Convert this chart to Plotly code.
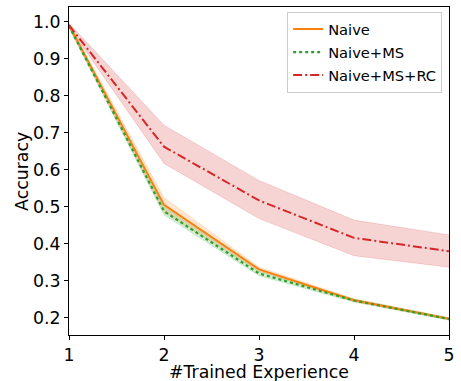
import plotly.graph_objects as go

experiences = [1, 2, 3, 4, 5]

naive_mean = [0.990, 0.505, 0.331, 0.248, 0.198]
naive_low = [0.985, 0.485, 0.325, 0.244, 0.195]
naive_high = [0.995, 0.525, 0.337, 0.252, 0.201]

ms_mean = [0.988, 0.488, 0.320, 0.247, 0.197]
ms_low = [0.983, 0.478, 0.314, 0.243, 0.194]
ms_high = [0.993, 0.500, 0.327, 0.251, 0.200]

rc_mean = [0.990, 0.662, 0.517, 0.416, 0.380]
rc_low = [0.985, 0.617, 0.468, 0.368, 0.337]
rc_high = [0.995, 0.720, 0.571, 0.464, 0.424]

series = [
    ("Naive", naive_mean, naive_low, naive_high, "#ff7f0e", "rgba(255,127,14,0.2)", "solid"),
    ("Naive+MS", ms_mean, ms_low, ms_high, "#2ca02c", "rgba(44,160,44,0.2)", "dot"),
    ("Naive+MS+RC", rc_mean, rc_low, rc_high, "#d62728", "rgba(214,39,40,0.2)", "9px,3px,2px,3px"),
]

fig = go.Figure()
for name, mean, low, high, color, fill, dash in series:
    fig.add_trace(go.Scatter(x=experiences, y=high, mode="lines", line=dict(width=0.8, color=fill),
                             showlegend=False, hoverinfo="skip"))
    fig.add_trace(go.Scatter(x=experiences, y=low, mode="lines", line=dict(width=0.8, color=fill),
                             fill="tonexty", fillcolor=fill, showlegend=False, hoverinfo="skip"))
for i, (name, mean, low, high, color, fill, dash) in enumerate(series):
    fig.add_trace(go.Scatter(x=experiences, y=mean, mode="lines", name=name, legendgroup=f"g{i}",
                             line=dict(color=color, width=2 if dash != "dot" else 2.2, dash=dash)))

font = "DejaVu Sans"
fig.update_layout(
    width=461, height=381,
    margin=dict(l=69, r=6, t=6, b=46),
    plot_bgcolor="white", paper_bgcolor="white",
    font=dict(family=font, color="black", size=17.33),
    showlegend=True,
    legend=dict(x=0.982, y=0.985, xanchor="right", yanchor="top", traceorder="grouped",
                bgcolor="rgba(255,255,255,0.8)", bordercolor="#cccccc", borderwidth=1,
                font=dict(family=font, size=14.67), tracegroupgap=1, itemwidth=30),
    annotations=[
        dict(text="#Trained Experience", xref="paper", yref="paper", x=0.5, y=-0.114,
             xanchor="center", yanchor="middle", showarrow=False, font=dict(size=17.33)),
        dict(text="Accuracy", xref="paper", yref="paper", x=-0.124, y=0.5, textangle=-90,
             xanchor="center", yanchor="middle", showarrow=False, font=dict(size=17.33)),
    ],
)
fig.update_xaxes(
    range=[1, 5], tickvals=experiences, ticktext=[str(v) for v in experiences],
    showgrid=False, zeroline=False, showline=True, linecolor="black", linewidth=1, mirror=True,
    ticks="outside", ticklen=4, tickcolor="black", tickfont=dict(size=17.33),
)
fig.update_yaxes(
    range=[0.154, 1.039], tickvals=[0.2, 0.3, 0.4, 0.5, 0.6, 0.7, 0.8, 0.9, 1.0],
    ticktext=["0.2", "0.3", "0.4", "0.5", "0.6", "0.7", "0.8", "0.9", "1.0"],
    showgrid=False, zeroline=False, showline=True, linecolor="black", linewidth=1, mirror=True,
    ticks="outside", ticklen=4, tickcolor="black", tickfont=dict(size=17.33),
)
fig.write_html("out.html", config={"displayModeBar": False},
               post_script="document.body.style.margin='0';document.body.style.overflow='hidden';")
